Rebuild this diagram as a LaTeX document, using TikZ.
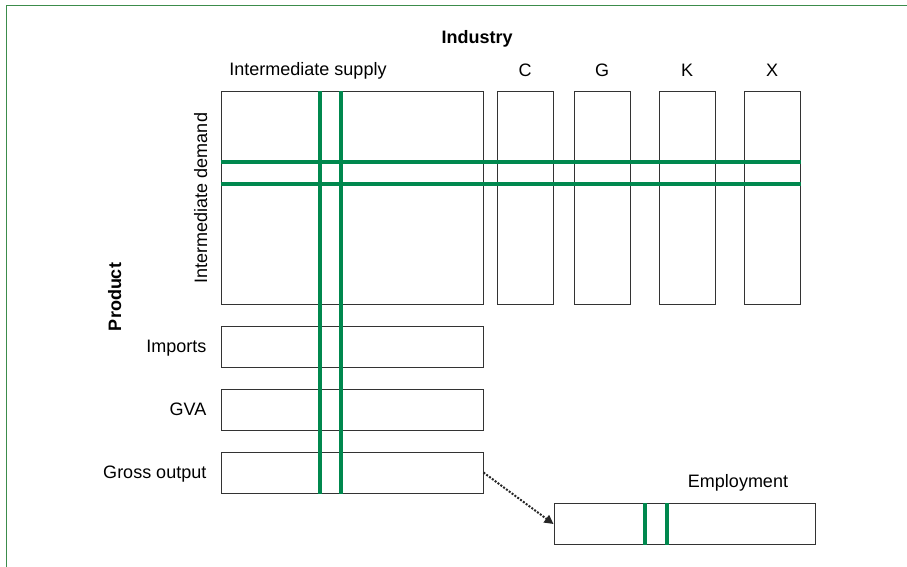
\documentclass[tikz,border=0pt]{standalone}
\usepackage{fontspec}
\setmainfont{Liberation Sans}
\usetikzlibrary{positioning}
\usetikzlibrary{arrows.meta}
\definecolor{bandgreen}{RGB}{0,136,78}
\definecolor{framegreen}{RGB}{60,140,75}

\begin{document}
\begin{tikzpicture}[x=1pt,y=-1pt,node distance=21pt,
		font=\fontsize{18}{21}\selectfont]
		\tikzstyle{block}=[draw=black!80,line width=1pt,inner sep=0pt,minimum width=262pt,minimum height=41pt]
		\tikzstyle{column}=[block,minimum width=56pt,minimum height=212pt]
		\tikzstyle{label}=[inner sep=0pt,text height=13pt,text depth=1pt]
		\tikzstyle{band}=[bandgreen,line width=4pt]
		
		\useasboundingbox (0,0) rectangle (907,567);
		\draw[framegreen,line width=1pt] (6,580) -- (6,6) -- (920,6);
		
		\node[block,minimum height=212pt] (demand) at (352,198) {};
		\node[column]  (C)       [right=13pt of demand]  {};
		\node[column]  (G)       [right=20pt of C]       {};
		\node[column]  (K)       [right=28pt of G]       {};
		\node[column]  (X)       [right=28pt of K]       {};
		\node[block]   (imports) [below=of demand]       {};
		\node[block]   (gva)     [below=of imports]      {};
		\node[block]   (gross)   [below=of gva]          {};
		\node[block,minimum width=261pt] (employ) at (684.5,524) {};
		
		\node[label,font=\fontsize{18}{21}\selectfont\bfseries] (industry) at (477,38) {Industry};
		\node[label] (supply)    at (308,70)      {Intermediate supply};
		\node[label] (Clbl)      [above=14pt of C] {C};
		\node[label] (Glbl)      [above=14pt of G] {G};
		\node[label] (Klbl)      [above=14pt of K] {K};
		\node[label] (Xlbl)      [above=14pt of X] {X};
		\node[label,rotate=90] (demandlbl) at (201,198) {Intermediate demand};
		\node[label,rotate=90,font=\fontsize{18}{21}\selectfont\bfseries] (product) at (115,297) {Product};
		\node[label] (importslbl) [left=14pt of imports] {Imports};
		\node[label] (gvalbl)     [left=14pt of gva]     {GVA};
		\node[label] (grosslbl)   [left=14pt of gross]   {Gross output};
		\node[label] (employlbl)  at (738,481)           {Employment};
		
		% green bands
		\coordinate (s1) at ([xshift=99pt]demand.north west);
		\coordinate (s2) at ([xshift=120pt]demand.north west);
		\coordinate (d1) at ([yshift=-70pt]demand.north west);
		\coordinate (d2) at ([yshift=-92pt]demand.north west);
		\coordinate (e1) at ([xshift=91pt]employ.north west);
		\coordinate (e2) at ([xshift=113pt]employ.north west);
		\draw[band] (s1) -- (s1 |- gross.south);
		\draw[band] (s2) -- (s2 |- gross.south);
		\draw[band] (d1) -- (d1 -| X.east);
		\draw[band] (d2) -- (d2 -| X.east);
		\draw[band] (e1) -- (e1 |- employ.south);
		\draw[band] (e2) -- (e2 |- employ.south);
		
		\draw[-{Triangle[length=9pt,width=9pt]},dash pattern=on 2pt off 1.5pt,line width=2pt,black!85] (gross.east) -- (employ.west);
\end{tikzpicture}
\end{document}
